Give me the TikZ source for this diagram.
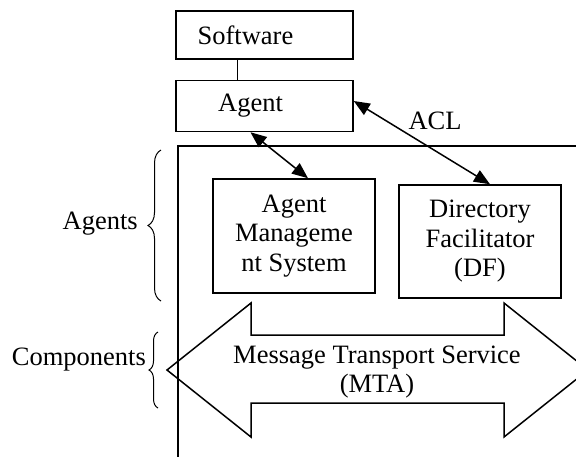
\documentclass[tikz,border=0pt]{standalone}
\usepackage{fontspec}
\setmainfont{Liberation Serif}
\usetikzlibrary{arrows.meta, positioning, decorations.pathreplacing}

\begin{document}
\begin{tikzpicture}[
    x=1pt, y=-1pt,
    font=\fontsize{26.5}{29.5}\selectfont,
    box/.style={draw, line width=1.5pt, inner sep=0pt, align=center},
    link/.style={{Triangle[length=16pt,width=13pt]}-{Triangle[length=16pt,width=13pt]}, line width=1.5pt},
    group/.style={decorate, decoration={brace, amplitude=#1}, line width=1pt},
    lbl/.style={anchor=east, inner sep=0pt}]
  \path[use as bounding box, clip] (0,0) rectangle (576,456);
  % host side
  \node[box, minimum width=177pt, minimum height=48pt] (soft) at (264.5,35) {Software\hspace{38pt}};
  \node[box, minimum width=177pt, minimum height=51pt, below=20pt of soft] (agent) {Agent\hspace{28pt}};
  \draw[line width=1.5pt] ([xshift=-27pt]soft.south) -- ([xshift=-27pt]agent.north);
  % platform
  \node[box, anchor=north west, minimum width=440pt, minimum height=340pt] (platform) at (177,145) {};
  \node[box, minimum width=162pt, minimum height=114pt] (ams) at (294,236) {Agent\\Manageme\\nt System};
  \node[box, minimum width=162pt, minimum height=113pt] (df) at (480,241.5) {Directory\\Facilitator\\(DF)};
  \draw[line width=1.5pt] (167,370) -- (251,303) -- (251,335) -- (504,335) -- (504,303) -- (588,370)
    -- (504,437) -- (504,403) -- (251,403) -- (251,437) -- cycle;
  \node[align=center, inner sep=0pt] (mts) at (377,372) {Message Transport Service\\(MTA)};
  % links
  \draw[link] ([xshift=-14pt]agent.south) -- ([xshift=14pt]ams.north);
  \draw[link] ([yshift=5pt]agent.east) -- ([xshift=10pt]df.north);
  \node (acl) at (435,121) {ACL};
  % braces
  \node[lbl] (agents) at (138,224) {Agents};
  \node[lbl] (comps) at (146,360) {Components};
  \draw[group=13pt] (161,301) -- (161,150);
  \draw[group=9pt] (158,408) -- (158,332);
\end{tikzpicture}
\end{document}
